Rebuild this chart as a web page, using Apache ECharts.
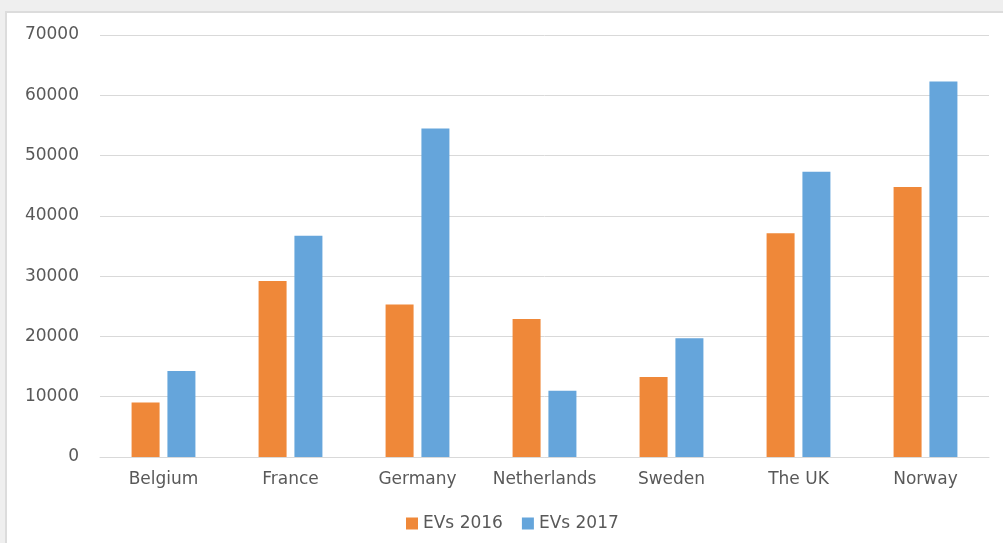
<!DOCTYPE html>
<html>
<head>
<meta charset="utf-8">
<script src="https://cdn.jsdelivr.net/npm/echarts@6/dist/echarts.min.js"></script>
<style>
  html, body { margin: 0; padding: 0; background: #efefef; overflow: hidden; }
  #panel {
    position: absolute; left: 5px; top: 11px; width: 998px; height: 532px;
    background: #fff; border-left: 2px solid #dcdcdc; border-top: 2px solid #dcdcdc;
    box-sizing: border-box;
  }
  #chart { width: 996px; height: 530px; }
</style>
</head>
<body>
<div id="panel"><div id="chart"></div></div>
<script>
// countries on the x axis
var countries = ['Belgium', 'France', 'Germany', 'Netherlands', 'Sweden', 'The UK', 'Norway'];
// EV counts
var evs2016 = [9050, 29200, 25300, 22900, 13250, 37100, 44800];
var evs2017 = [14250, 36700, 54500, 11000, 19700, 47300, 62300];
var seriesNames = ['EVs 2016', 'EVs 2017'];

var font = 'DejaVu Sans';
var txt = '#595959';

var myChart = echarts.init(document.getElementById('chart'));
var option = {
  animation: false,
  textStyle: { fontFamily: font },
  grid: { left: 93, right: 14, top: 22, bottom: 86 },
  legend: {
    data: seriesNames,
    bottom: 6,
    left: 394,
    itemWidth: 12,
    itemHeight: 12,
    itemGap: 19,
    icon: 'rect',
    textStyle: { color: txt, fontSize: 17, fontFamily: font }
  },
  xAxis: {
    type: 'category',
    data: countries,
    axisLine: { lineStyle: { color: '#d9d9d9', width: 1 } },
    axisTick: { show: false },
    axisLabel: { color: txt, fontSize: 17, margin: 14, fontFamily: font, interval: 0 }
  },
  yAxis: {
    type: 'value',
    min: 0,
    max: 70000,
    interval: 10000,
    axisLine: { show: false },
    axisTick: { show: false },
    axisLabel: {
      color: txt, fontSize: 17, margin: 21, fontFamily: font,
      formatter: function (v) { return String(v); }
    },
    splitLine: { lineStyle: { color: '#d9d9d9', width: 1 } }
  },
  series: [
    {
      name: seriesNames[0],
      type: 'bar',
      data: evs2016,
      barWidth: 28,
      barGap: '28%',
      itemStyle: { color: '#EF8839' }
    },
    {
      name: seriesNames[1],
      type: 'bar',
      data: evs2017,
      barWidth: 28,
      barGap: '28%',
      itemStyle: { color: '#65A5DB' }
    }
  ]
};
myChart.setOption(option);
</script>
</body>
</html>
